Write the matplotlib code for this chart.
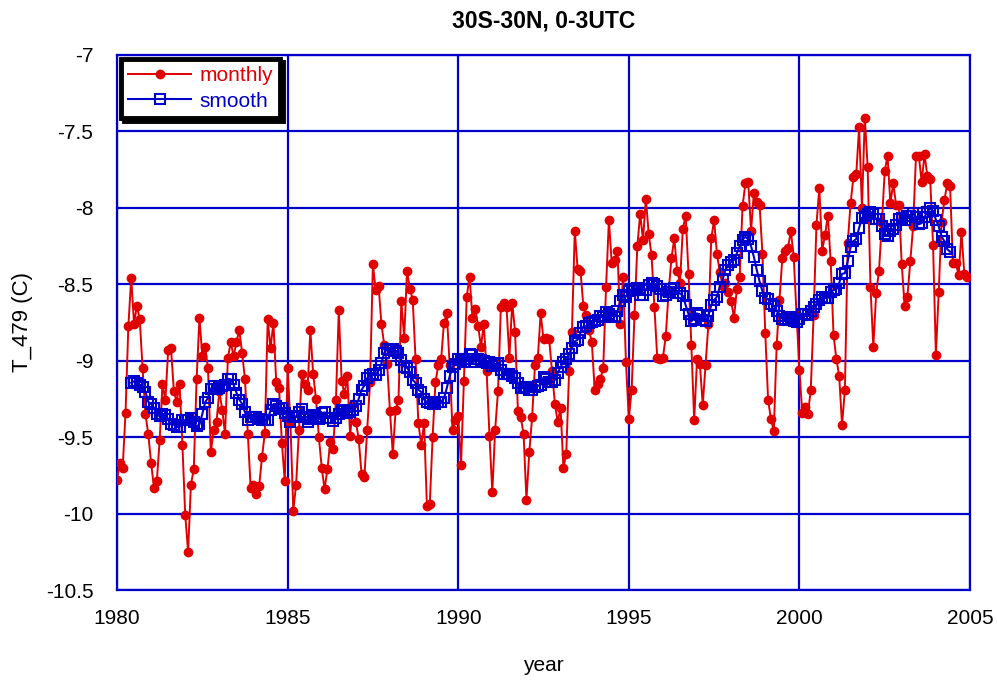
import numpy as np
import matplotlib
matplotlib.use("Agg")
import matplotlib.pyplot as plt
from matplotlib.ticker import FormatStrFormatter, MultipleLocator

plt.rcParams['font.family'] = ['Liberation Sans', 'DejaVu Sans']
plt.rcParams['axes.unicode_minus'] = False

start_year = 1980
monthly = [
    # 1980-1984
    -9.78, -9.67, -9.70, -9.34, -8.77, -8.46, -8.76, -8.64, -8.73, -9.05, -9.35, -9.48,
    -9.67, -9.83, -9.79, -9.52, -9.15, -9.26, -8.93, -8.92, -9.20, -9.27, -9.15, -9.55,
    -10.01, -10.25, -9.81, -9.71, -9.12, -8.72, -8.97, -8.91, -9.05, -9.60, -9.45, -9.40,
    -9.20, -9.32, -9.48, -8.98, -8.88, -8.97, -8.88, -8.80, -8.95, -9.12, -9.48, -9.83,
    -9.81, -9.87, -9.82, -9.63, -9.47, -8.73, -8.92, -8.75, -9.14, -9.18, -9.54, -9.79,
    # 1985-1989
    -9.05, -9.41, -9.98, -9.81, -9.45, -9.09, -9.15, -9.19, -8.80, -9.09, -9.25, -9.50,
    -9.70, -9.84, -9.71, -9.53, -9.58, -9.26, -8.67, -9.13, -9.22, -9.10, -9.49, -9.28,
    -9.40, -9.51, -9.74, -9.76, -9.45, -9.14, -8.37, -8.54, -8.51, -8.76, -8.90, -9.02,
    -9.33, -9.61, -9.32, -9.26, -8.61, -8.85, -8.41, -8.53, -8.60, -8.99, -9.41, -9.55,
    -9.41, -9.95, -9.94, -9.50, -9.14, -9.03, -8.99, -8.75, -8.69, -9.03, -9.45, -9.39,
    # 1990-1994
    -9.36, -9.68, -9.13, -8.58, -8.45, -8.72, -8.66, -8.77, -8.91, -8.76,
    -9.07, -9.49, -9.86, -9.45, -9.20, -8.65, -8.62, -8.65, -8.98, -8.62, -8.81,
    -9.33, -9.37, -9.48, -9.91, -9.60, -9.37, -9.03, -8.98, -8.69, -8.86, -8.85,
    -8.86, -9.07, -9.28, -9.40, -9.31, -9.70, -9.61, -9.07, -8.81, -8.15,
    -8.40, -8.41, -8.64, -8.70, -8.80, -8.88, -9.19, -9.15, -9.12, -9.05, -8.52,
    -8.08, -8.36, -8.34, -8.28, -8.76, -8.45,
    # 1995-2004
    -9.01, -9.38, -9.19, -8.70, -8.25, -8.04, -8.21, -7.94, -8.17, -8.31,
    -8.65, -8.98, -8.99, -8.98, -8.84, -8.55, -8.33, -8.20, -8.41, -8.49,
    -8.14, -8.05, -8.43, -8.90, -9.39, -8.99, -9.02, -9.29, -9.03, -8.76,
    -8.20, -8.08, -8.30, -8.42, -8.51, -8.49, -8.55, -8.61, -8.72, -8.53,
    -8.45, -7.99, -7.84, -7.83, -8.15, -7.90, -7.96, -7.98, -8.30, -8.82,
    -9.26, -9.38, -9.46, -8.90, -8.60, -8.33, -8.28, -8.26, -8.15, -8.32,
    -8.70, -9.06, -9.34, -9.30, -9.35, -9.19, -8.70, -8.11, -7.87, -8.28,
    -8.18, -8.05, -8.35, -8.83, -8.99, -9.10, -9.42, -9.19, -8.23, -7.97,
    -7.80, -7.78, -7.47, -8.00, -7.41, -7.73, -8.52, -8.91, -8.56,
    -8.41, -8.10, -7.76, -7.66, -7.97, -7.84, -7.98, -7.98, -8.37, -8.64,
    -8.58, -8.35, -8.12, -7.66, -7.66, -7.83, -7.65, -7.79, -7.81, -8.24,
    -8.96, -8.55, -8.09, -7.95, -7.84, -7.86, -8.36, -8.36, -8.44, -8.16,
    -8.43, -8.45,
]
monthly = np.array(monthly[:300])
window = 12

t = start_year + np.arange(len(monthly)) / 12.0
smooth = np.convolve(monthly, np.ones(window) / window, mode='valid')
t_smooth = t[window // 2 - 1: window // 2 - 1 + len(smooth)]

RED = '#E00000'
BLUE = '#0000CC'

fig = plt.figure(figsize=(9.97, 6.83), dpi=100)
ax = fig.add_axes([117/997, 1 - 590/683, (970-117)/997, (590-55)/683])

ax.plot(t, monthly, color=RED, lw=1.4, marker='o', ms=6, mec=RED, mfc=RED,
        label='monthly', zorder=3)
ax.plot(t_smooth, smooth, color=BLUE, lw=1.5, marker='s', ms=7.5, mec=BLUE,
        mfc='none', mew=1.5, label='smooth', zorder=4)

ax.set_xlim(1980, 2005)
ax.set_ylim(-10.5, -7)
ax.xaxis.set_major_locator(MultipleLocator(5))
ax.yaxis.set_major_locator(MultipleLocator(0.5))
ax.yaxis.set_major_formatter(FormatStrFormatter('%g'))
ax.grid(True, color=BLUE, lw=1.6)
ax.set_axisbelow(True)
for s in ax.spines.values():
    s.set_color(BLUE)
    s.set_linewidth(1.6)
ax.tick_params(length=0, labelsize=15)
ax.tick_params(axis='y', pad=17)
ax.tick_params(axis='x', pad=14)

ax.set_title('30S-30N, 0-3UTC', fontsize=16.5, fontweight='bold', pad=20)
ax.set_xlabel('year', fontsize=15, labelpad=20)
ax.set_ylabel('T_479 (C)', fontsize=16, labelpad=9)

leg = ax.legend(loc='upper left', bbox_to_anchor=(0, 1), borderaxespad=0.2,
                fancybox=False, fontsize=15, handlelength=3.0,
                handletextpad=0.4, borderpad=0.35, labelspacing=0.3,
                shadow={'color': 'black', 'alpha': 1.0}, framealpha=1)
leg.get_frame().set_edgecolor('black')
leg.get_frame().set_linewidth(3.5)
for txt, c in zip(leg.get_texts(), [RED, BLUE]):
    txt.set_color(c)

fig.savefig('out.png', dpi=100)
